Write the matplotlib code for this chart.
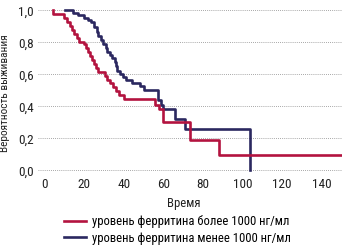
import matplotlib
matplotlib.use("Agg")
import matplotlib.pyplot as plt
from matplotlib import font_manager
from matplotlib.textpath import TextPath

# Kaplan-Meier steps (time, survival after the step)
t_high = [4, 4, 9.5, 11, 12.5, 13.5, 14.5, 16, 17.5, 20, 21, 22, 23, 24, 25, 26, 27,
          30.5, 31.5, 33, 34.5, 36, 37.5, 40, 55.7, 58, 60, 73.4, 88, 150]
s_high = [1.0, 0.975, 0.95, 0.925, 0.9, 0.875, 0.85, 0.825, 0.805, 0.79, 0.765, 0.74,
          0.715, 0.69, 0.665, 0.64, 0.615, 0.59, 0.565, 0.545, 0.52, 0.495, 0.47,
          0.445, 0.41, 0.385, 0.30, 0.19, 0.095, 0.095]

t_low = [10.1, 14, 17, 20, 22, 23.5, 25, 26.5, 27, 28.5, 29.5, 31, 31.5, 33, 34, 35.5,
         36, 36.5, 38, 39.5, 41, 44, 48, 50, 57, 57.5, 59, 60, 66, 71, 104]
s_low = [1.0, 0.985, 0.97, 0.955, 0.94, 0.925, 0.895, 0.865, 0.84, 0.815, 0.79, 0.765,
         0.74, 0.72, 0.70, 0.675, 0.65, 0.62, 0.60, 0.585, 0.565, 0.545, 0.525, 0.505,
         0.47, 0.44, 0.41, 0.385, 0.32, 0.26, 0.0]

label_high = "уровень ферритина более 1000 нг/мл"
label_low = "уровень ферритина менее 1000 нг/мл"
x_ticks = [0, 20, 40, 60, 80, 100, 120, 140]
y_ticks = [0.0, 0.2, 0.4, 0.6, 0.8, 1.0]

red = "#b3133f"
navy = "#2b2860"

# the reference uses a narrow sans; take a condensed one if there is one
installed = {f.name for f in font_manager.fontManager.ttflist}
family = "DejaVu Sans"
for name in ["Liberation Sans Narrow", "DejaVu Sans Condensed", "Roboto Condensed",
             "Liberation Sans", "Roboto"]:
    if name in installed:
        family = name
        break
plt.rcParams["font.family"] = [family, "DejaVu Sans"]

# size the text so the legend label is as wide as in the reference (~196 px)
w = TextPath((0, 0), label_high, size=10,
             prop=font_manager.FontProperties(family=family)).get_extents().width
fs = 10 * 196 / (w * 100 / 72)

fig = plt.figure(figsize=(3.42, 2.46), dpi=100)
ax = fig.add_axes([38 / 342, 74 / 246, 304 / 342, 164 / 246])

ax.step(t_high, s_high, where="post", color=red, lw=1.9, label=label_high, zorder=3)
ax.step(t_low, s_low, where="post", color=navy, lw=1.9, label=label_low, zorder=2)

ax.set_xlim(-3.5, 150.4)
ax.set_ylim(-0.0094, 1.0156)
ax.set_xticks(x_ticks)
ax.set_yticks(y_ticks)
ax.set_yticklabels([f"{v:.1f}".replace(".", ",") for v in y_ticks])
ax.tick_params(length=0, labelsize=fs * 1.05, colors="#222222", pad=4)
ax.tick_params(axis="y", pad=3)
ax.grid(axis="y", linestyle=(0, (1, 1.5)), color="#8a8a8a", lw=0.6)
ax.grid(axis="x", visible=False)
for sp in ax.spines.values():
    sp.set_visible(False)

ax.set_xlabel("Время", fontsize=fs, color="#222222")
ax.xaxis.set_label_coords(0.48, -0.15)
ax.set_ylabel("Вероятность выживания", fontsize=fs * 0.9, color="#222222")
ax.yaxis.set_label_coords(-0.093, 0.48)

fig.legend(loc="upper left", bbox_to_anchor=(0.188, 0.126), frameon=False,
           fontsize=fs, handlelength=1.75, handletextpad=0.45, labelspacing=0.3,
           borderpad=0, borderaxespad=0)

fig.savefig("out.png", dpi=100)
